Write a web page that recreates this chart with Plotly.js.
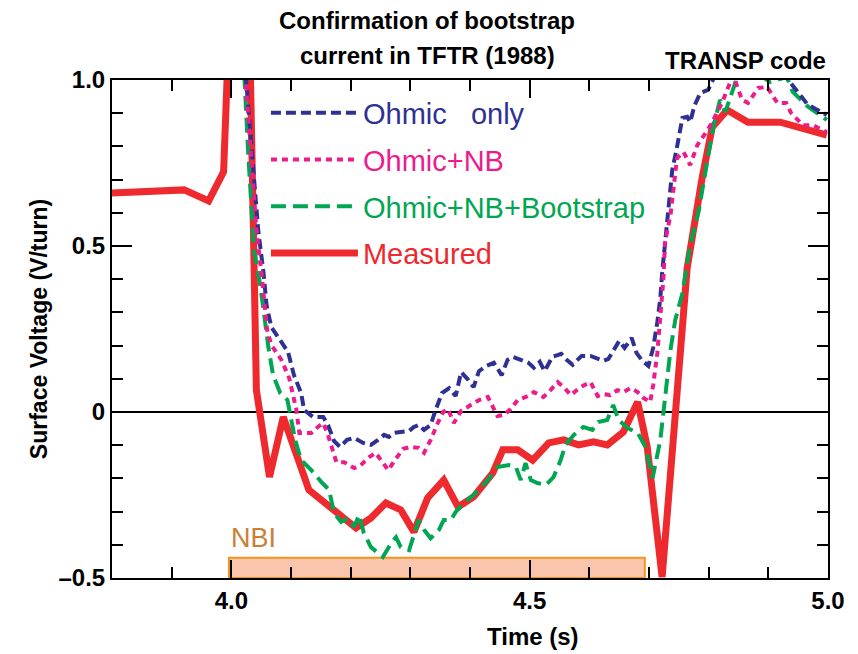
<!DOCTYPE html>
<html>
<head>
<meta charset="utf-8">
<script src="https://cdn.plot.ly/plotly-3.0.1.min.js"></script>
<style>html,body{margin:0;padding:0;background:#fff;}#chart{width:858px;height:654px;}</style>
</head>
<body>
<div id="chart"></div>
<script>
// ---- Data (time in s, surface voltage in V/turn) ----
const measuredT = [3.800,3.921,3.962,3.987,3.997,4.030,4.037,4.042,4.064,4.087,4.130,4.179,4.209,4.234,4.259,4.284,4.306,4.329,4.356,4.380,4.406,4.438,4.455,4.480,4.505,4.532,4.557,4.582,4.607,4.630,4.657,4.681,4.697,4.722,4.764,4.789,4.806,4.831,4.866,4.920,4.998];
const measuredV = [0.660,0.669,0.636,0.723,1.200,1.200,0.548,0.066,-0.196,-0.015,-0.235,-0.304,-0.349,-0.319,-0.274,-0.295,-0.361,-0.259,-0.205,-0.286,-0.256,-0.184,-0.114,-0.114,-0.145,-0.093,-0.084,-0.099,-0.090,-0.099,-0.060,0.030,-0.105,-0.497,0.434,0.705,0.858,0.910,0.873,0.873,0.834];

const bootT = [4.018,4.028,4.038,4.047,4.054,4.062,4.070,4.082,4.094,4.100,4.107,4.117,4.134,4.151,4.164,4.172,4.184,4.196,4.206,4.214,4.222,4.234,4.254,4.268,4.276,4.284,4.298,4.314,4.323,4.334,4.348,4.356,4.368,4.376,4.390,4.406,4.430,4.446,4.465,4.477,4.485,4.493,4.502,4.513,4.527,4.540,4.552,4.560,4.574,4.590,4.605,4.615,4.630,4.640,4.649,4.664,4.681,4.694,4.706,4.719,4.727,4.736,4.744,4.756,4.769,4.783,4.806,4.819,4.828,4.841,4.849,4.873,4.903,4.931,4.941,4.965,4.998];
const bootV = [1.151,0.789,0.488,0.398,0.307,0.196,0.111,0.057,0.036,-0.015,-0.084,-0.145,-0.175,-0.211,-0.235,-0.304,-0.331,-0.319,-0.346,-0.310,-0.364,-0.407,-0.437,-0.395,-0.377,-0.407,-0.416,-0.325,-0.355,-0.380,-0.355,-0.325,-0.325,-0.301,-0.274,-0.250,-0.205,-0.166,-0.160,-0.166,-0.205,-0.154,-0.205,-0.214,-0.220,-0.196,-0.145,-0.099,-0.069,-0.045,-0.054,-0.030,-0.024,0.021,-0.024,-0.048,-0.063,-0.105,-0.199,-0.084,0.045,0.187,0.277,0.358,0.503,0.602,0.843,0.940,0.904,0.970,1.015,1.030,0.994,1.009,0.964,0.922,0.880];

const nbT = [4.018,4.042,4.050,4.055,4.060,4.067,4.084,4.097,4.109,4.114,4.134,4.145,4.154,4.162,4.171,4.176,4.189,4.206,4.217,4.231,4.242,4.254,4.263,4.273,4.288,4.301,4.314,4.323,4.334,4.346,4.355,4.363,4.373,4.385,4.396,4.415,4.430,4.440,4.446,4.457,4.468,4.480,4.497,4.507,4.523,4.535,4.547,4.557,4.569,4.585,4.602,4.614,4.624,4.635,4.647,4.657,4.669,4.681,4.691,4.702,4.707,4.714,4.719,4.724,4.727,4.736,4.747,4.758,4.769,4.781,4.798,4.806,4.823,4.833,4.841,4.856,4.866,4.883,4.898,4.915,4.930,4.938,4.958,4.975,4.998];
const nbV = [1.151,0.548,0.428,0.337,0.247,0.202,0.157,0.102,0.006,-0.063,-0.063,-0.045,-0.033,-0.069,-0.120,-0.151,-0.151,-0.169,-0.160,-0.136,-0.123,-0.151,-0.175,-0.148,-0.111,-0.105,-0.108,-0.123,-0.084,-0.033,0.000,0.009,-0.033,0.003,0.015,0.036,0.045,0.012,-0.012,-0.009,0.009,0.036,0.048,0.060,0.045,0.066,0.090,0.075,0.051,0.075,0.090,0.048,0.054,0.051,0.066,0.060,0.072,0.060,0.042,0.030,0.081,0.178,0.277,0.398,0.512,0.593,0.765,0.783,0.744,0.804,0.849,0.873,0.934,0.979,1.015,0.940,0.931,0.976,0.979,0.931,0.931,0.901,0.864,0.864,0.843];

const ohmT = [4.018,4.045,4.054,4.059,4.067,4.082,4.095,4.105,4.117,4.122,4.137,4.154,4.162,4.172,4.182,4.194,4.206,4.221,4.234,4.246,4.256,4.264,4.273,4.284,4.298,4.306,4.314,4.323,4.334,4.343,4.353,4.365,4.376,4.385,4.396,4.406,4.415,4.428,4.440,4.453,4.463,4.472,4.482,4.498,4.507,4.517,4.525,4.538,4.553,4.562,4.572,4.587,4.602,4.612,4.624,4.632,4.642,4.650,4.659,4.671,4.679,4.689,4.699,4.707,4.714,4.719,4.722,4.726,4.731,4.739,4.746,4.756,4.764,4.769,4.776,4.786,4.799,4.811,4.853,4.903,4.940,4.950,4.965,4.982,4.998];
const ohmV = [1.151,0.548,0.419,0.322,0.256,0.214,0.181,0.111,0.057,0.006,-0.015,-0.015,-0.039,-0.087,-0.105,-0.084,-0.078,-0.093,-0.099,-0.084,-0.069,-0.075,-0.063,-0.060,-0.057,-0.045,-0.039,-0.054,-0.039,0.009,0.057,0.072,0.048,0.120,0.099,0.075,0.123,0.139,0.148,0.111,0.157,0.166,0.160,0.148,0.133,0.151,0.123,0.166,0.175,0.157,0.142,0.169,0.169,0.163,0.154,0.160,0.187,0.214,0.193,0.223,0.178,0.154,0.139,0.193,0.271,0.343,0.419,0.494,0.593,0.729,0.789,0.886,0.889,0.873,0.922,0.961,0.970,1.015,1.075,1.075,0.985,0.961,0.928,0.910,0.895];

const seriesNames = ['Ohmic   only', 'Ohmic+NB', 'Ohmic+NB+Bootstrap', 'Measured'];
const titleLines = ['Confirmation of bootstrap', 'current in TFTR (1988)'];
const nbiWindow = [3.996, 4.693];
const xTickVals = [4.0, 4.5, 5.0];
const xTickText = ['4.0', '4.5', '5.0'];
const yTickVals = [-0.5, 0, 0.5, 1.0];
const yTickText = ['\u20130.5', '0', '0.5', '1.0'];

const C_BLUE = '#2e3192', C_MAG = '#ec1c8c', C_GREEN = '#00a651', C_RED = '#ee2a2e';
const FONT = 'Liberation Sans, Arial, Helvetica, sans-serif';
const span = (c, t) => '<span style="color:' + c + '">' + t + '</span>';
const boldFont = (s) => ({family: FONT, size: s, color: '#000', weight: 'bold'});

const traces = [
  {x: measuredT, y: measuredV, mode: 'lines', name: span(C_RED, seriesNames[3]), legendrank: 4, legendgroup: 'd',
   line: {color: C_RED, width: 7, dash: 'solid'}},
  {x: bootT, y: bootV, mode: 'lines', name: span(C_GREEN, seriesNames[2]), legendrank: 3, legendgroup: 'c',
   line: {color: C_GREEN, width: 4, dash: '15px,7px'}},
  {x: ohmT, y: ohmV, mode: 'lines', name: span(C_BLUE, seriesNames[0]), legendrank: 1, legendgroup: 'a',
   line: {color: C_BLUE, width: 4, dash: '10px,5px'}},
  {x: nbT, y: nbV, mode: 'lines', name: span(C_MAG, seriesNames[1]), legendrank: 2, legendgroup: 'b',
   line: {color: C_MAG, width: 4, dash: '6px,5px'}}
];

const axisCommon = {
  showline: true, linecolor: '#000', linewidth: 2, mirror: 'allticks',
  ticks: 'inside', tickcolor: '#000', tickwidth: 2,
  showgrid: false, zeroline: false,
  tickfont: boldFont(24)
};

const layout = {
  width: 858, height: 654,
  margin: {l: 112, r: 30, t: 80, b: 76},
  paper_bgcolor: '#fff', plot_bgcolor: '#fff',
  showlegend: true,
  xaxis: Object.assign({}, axisCommon, {
    range: [3.8, 5.0], tickvals: xTickVals, ticktext: xTickText, ticklen: 18,
    minor: {dtick: 0.1, tick0: 3.8, ticks: 'inside', ticklen: 11, tickcolor: '#000', tickwidth: 2}
  }),
  yaxis: Object.assign({}, axisCommon, {
    range: [-0.5, 1.0], tickvals: yTickVals, ticktext: yTickText, ticklen: 20,
    zeroline: true, zerolinecolor: '#000', zerolinewidth: 1.5,
    minor: {dtick: 0.1, tick0: -0.5, ticks: 'inside', ticklen: 11, tickcolor: '#000', tickwidth: 2},
    title: {text: 'Surface Voltage (V/turn)', standoff: 4, font: boldFont(23)}
  }),
  legend: {x: 0.215, y: 0.985, xanchor: 'left', yanchor: 'top', bgcolor: 'rgba(0,0,0,0)',
           font: {family: FONT, size: 29}, itemwidth: 87, traceorder: 'grouped', tracegroupgap: 6},
  shapes: [{type: 'rect', xref: 'x', yref: 'y', x0: nbiWindow[0], x1: nbiWindow[1], y0: -0.5, y1: -0.439,
            fillcolor: '#f9c6ad', line: {color: '#f7941d', width: 2}, layer: 'below'}],
  annotations: [
    {text: titleLines[0], xref: 'paper', yref: 'paper', x: 0.44, y: 1, yanchor: 'middle', yshift: 60,
     showarrow: false, font: boldFont(24)},
    {text: titleLines[1], xref: 'paper', yref: 'paper', x: 0.44, y: 1, yanchor: 'middle', yshift: 25,
     showarrow: false, font: boldFont(24)},
    {text: 'Time (s)', xref: 'paper', yref: 'paper', x: 0.588, y: 0, yanchor: 'middle', yshift: -58,
     showarrow: false, font: boldFont(24)},
    {text: 'NBI', xref: 'x', yref: 'y', x: nbiWindow[0], y: -0.38, xanchor: 'left', yanchor: 'middle',
     showarrow: false, font: {family: FONT, size: 27, color: '#c98036'}},
    {text: 'TRANSP code', xref: 'paper', yref: 'paper', x: 1.0, y: 1.0, xanchor: 'right', yanchor: 'middle',
     yshift: 20, showarrow: false, font: boldFont(24)}
  ]
};

Plotly.newPlot('chart', traces, layout, {displayModeBar: false, staticPlot: true});
</script>
</body>
</html>
